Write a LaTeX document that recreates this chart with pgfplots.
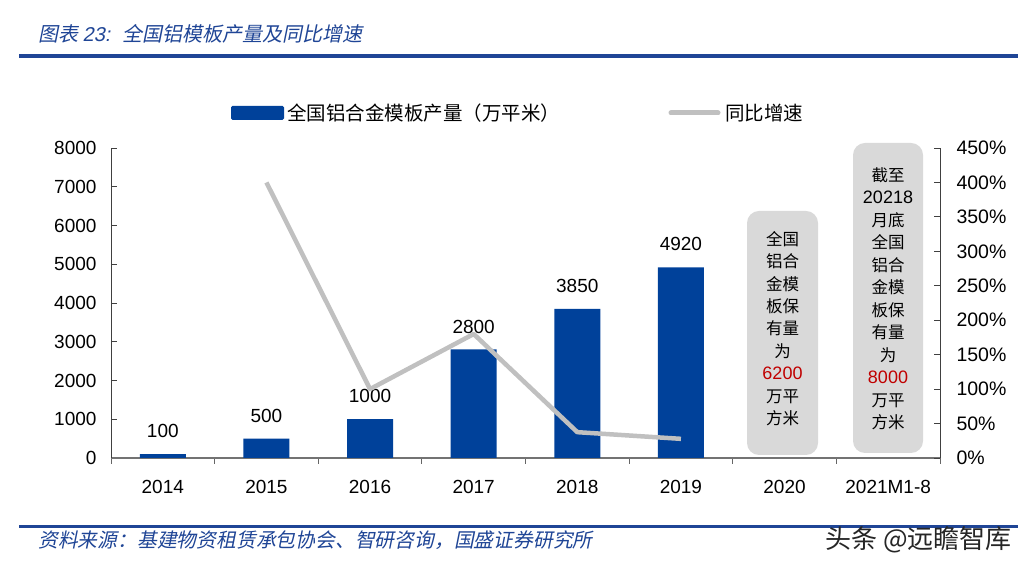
\documentclass[border=0pt]{standalone}
\usepackage{pgfplots}
\pgfplotsset{compat=1.18}
\usepackage{fontspec}
\setmainfont{Liberation Sans}
\newfontfamily\cjk{Noto Sans CJK SC}
\newfontfamily\cjkit[FakeSlant=0.2]{Noto Sans CJK SC}
\newfontfamily\latit[FakeSlant=0.2]{Liberation Sans}
\definecolor{barblue}{HTML}{00419A}
\definecolor{titleblue}{HTML}{1F4596}
\definecolor{linegray}{HTML}{C0C0C0}
\definecolor{boxgray}{HTML}{D9D9D9}
\definecolor{numred}{HTML}{C00000}
\begin{document}
\begin{tikzpicture}
\fill[white] (0pt,0pt) rectangle (1030pt,569pt);
% title
\node[anchor=west,text=titleblue,inner sep=0] at (38pt,535pt) {\fontsize{20}{20}\selectfont\cjkit 图表 \latit 23: \cjkit\ 全国铝模板产量及同比增速};
\draw[titleblue,line width=3.5pt] (19pt,513pt) -- (1018pt,513pt);
% footer
\draw[titleblue,line width=3pt] (19pt,42pt) -- (1018pt,42pt);
\node[anchor=west,text=titleblue,inner sep=0] at (38pt,29pt) {\fontsize{19.8}{19.8}\selectfont\cjkit 资料来源：基建物资租赁承包协会、智研咨询，国盛证券研究所};
% gray boxes
\fill[boxgray,rounded corners=12pt] (747pt,114pt) rectangle (818pt,358pt);
\fill[boxgray,rounded corners=12pt] (853pt,116pt) rectangle (923pt,426pt);
\begin{axis}[
  at={(111pt,111pt)}, anchor=south west, scale only axis,
  width=829pt, height=310pt,
  xmin=0, xmax=8, ymin=0, ymax=8000,
  axis x line*=bottom, axis y line*=left,
  x axis line style={draw=gray!90!black, line width=1.5pt},
  y axis line style={draw=black!75, line width=0.9pt},
  tick align=inside,
  major tick length=6pt,
  xtick={0,1,...,8},
  x tick label as interval,
  xticklabels={2014,2015,2016,2017,2018,2019,2020,2021M1-8},
  x tick style={draw=black!60, line width=0.9pt},
  y tick style={draw=black!75, line width=0.9pt},
  ytick={0,1000,...,8000},
  /pgf/number format/1000 sep={},
  /pgf/number format/assume math mode=true,
  tick label style={font=\fontsize{19}{19}\selectfont, text=black},
  xticklabel style={yshift=-13pt},
  yticklabel style={xshift=-11pt},
  ybar, bar width=46pt,
  nodes near coords,
  every node near coord/.append style={font=\fontsize{19}{19}\selectfont, text=black, anchor=south, inner sep=0pt, yshift=16pt},
]
\addplot[fill=barblue, draw=none] coordinates {(0.5,100) (1.5,500) (2.5,1000) (3.5,2800) (4.5,3850) (5.5,4920)};
\end{axis}
\begin{axis}[
  at={(111pt,111pt)}, anchor=south west, scale only axis,
  width=829pt, height=310pt,
  xmin=0, xmax=8, ymin=0, ymax=450,
  axis x line=none, axis y line*=right,
  y axis line style={draw=black!75, line width=0.9pt},
  tick align=inside, major tick length=6pt,
  y tick style={draw=black!75, line width=0.9pt},
  ytick={0,50,...,450},
  yticklabel={\pgfmathprintnumber{\tick}\%},
  /pgf/number format/assume math mode=true,
  yticklabel style={font=\fontsize{19.5}{19.5}\selectfont, text=black, anchor=west, xshift=13pt},
]
\addplot[linegray, line width=4.5pt, line join=round, mark=none] coordinates {(1.5,400) (2.5,100) (3.5,180) (4.5,37.5) (5.5,27.8)};
\end{axis}
% box texts
\node[align=center,inner sep=0,font=\fontsize{16.5}{22.4}\selectfont] at (782.5pt,240.5pt) {\cjk 全国\\ \cjk 铝合\\ \cjk 金模\\ \cjk 板保\\ \cjk 有量\\ \cjk 为\\ \textcolor{numred}{\fontsize{18}{22.4}\selectfont 6200}\\ \cjk 万平\\ \cjk 方米};
\node[align=center,inner sep=0,font=\fontsize{16.5}{22.5}\selectfont] at (888pt,270pt) {\cjk 截至\\ {\fontsize{18}{22.5}\selectfont 20218}\\ \cjk 月底\\ \cjk 全国\\ \cjk 铝合\\ \cjk 金模\\ \cjk 板保\\ \cjk 有量\\ \cjk 为\\ \textcolor{numred}{\fontsize{18}{22.5}\selectfont 8000}\\ \cjk 万平\\ \cjk 方米};
% legend
\fill[barblue,rounded corners=1.5pt] (231pt,449pt) rectangle (284pt,463pt);
\node[anchor=west,inner sep=0] at (287pt,456pt) {\fontsize{19.5}{19.5}\selectfont\cjk 全国铝合金模板产量（万平米）};
\draw[linegray,line width=5pt,line cap=round] (671pt,456pt) -- (718pt,456pt);
\node[anchor=west,inner sep=0] at (725pt,456pt) {\fontsize{19.5}{19.5}\selectfont\cjk 同比增速};
% watermark
\node[anchor=west,inner sep=0,text=black!85] at (825pt,29pt) {\fontsize{26}{26}\selectfont\cjk 头条 @远瞻智库};
\pgfresetboundingbox
\path[use as bounding box] (0pt,0pt) rectangle (1030pt,569pt);
\end{tikzpicture}
\end{document}
